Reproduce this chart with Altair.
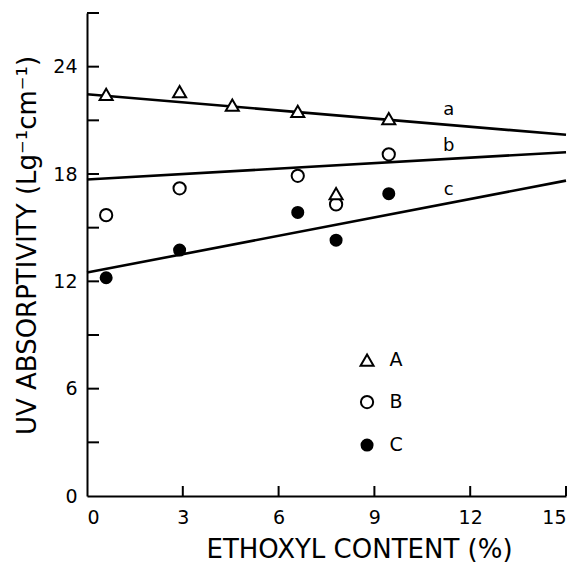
import altair as alt
import pandas as pd

# Series data (ethoxyl content %, UV absorptivity)
a_x = [0.6, 2.9, 4.55, 6.6, 9.45, 7.8]
a_y = [22.45, 22.6, 21.85, 21.5, 21.1, 16.9]
b_x = [0.6, 2.9, 6.6, 7.8, 9.45]
b_y = [15.7, 17.2, 17.9, 16.3, 19.1]
c_x = [0.6, 2.9, 6.6, 7.8, 9.45]
c_y = [12.2, 13.75, 15.85, 14.3, 16.9]

# Fitted lines (endpoints at x=0 and x=15)
line_names = ["a", "a", "b", "b", "c", "c"]
line_x = [0, 15, 0, 15, 0, 15]
line_y = [22.46, 20.19, 17.69, 19.22, 12.49, 17.63]

# Line labels
lab_text = ["a", "b", "c"]
lab_x = [11.33, 11.33, 11.33]
lab_y = [21.6, 19.55, 17.1]

# Legend entries
leg_text = ["A", "B", "C"]
leg_mx = [8.77, 8.77, 8.77]
leg_tx = [9.68, 9.68, 9.68]
leg_y = [7.6, 5.25, 2.85]

x_ticks = [3, 6, 9, 12, 15]
y_ticks = [3, 6, 9, 12, 15, 18, 21, 24, 27]
x_labels = [0, 3, 6, 9, 12, 15]
y_labels = [0, 6, 12, 18, 24]

FONT = "DejaVu Sans"
W, H = 479, 483

xs = alt.Scale(domain=[0, 15], nice=False, zero=False)
ys = alt.Scale(domain=[0, 27], nice=False, zero=False)

x_axis = alt.Axis(values=x_labels, tickSize=0, grid=False, labelFontSize=19,
                  labelFont=FONT, labelColor="black", labelPadding=12,
                  domainColor="black", domainWidth=2, title="ETHOXYL CONTENT (%)",
                  titleFont=FONT, titleFontSize=26, titleFontWeight="normal",
                  titleColor="black", titlePadding=9, titleX=272, titleAlign="center",
                  format="d")
y_axis = alt.Axis(values=y_labels, tickSize=0, grid=False, labelFontSize=19,
                  labelFont=FONT, labelColor="black", labelPadding=10,
                  domainColor="black", domainWidth=2,
                  title="UV ABSORPTIVITY (Lg⁻¹cm⁻¹)",
                  titleFont=FONT, titleFontSize=26, titleFontWeight="normal",
                  titleColor="black", titlePadding=12, titleY=232, titleAlign="center",
                  format="d")

df_a = pd.DataFrame({"x": a_x, "y": a_y})
df_b = pd.DataFrame({"x": b_x, "y": b_y})
df_c = pd.DataFrame({"x": c_x, "y": c_y})
df_l = pd.DataFrame({"line": line_names, "x": line_x, "y": line_y})
df_lab = pd.DataFrame({"t": lab_text, "x": lab_x, "y": lab_y})
df_leg = pd.DataFrame({"t": leg_text, "mx": leg_mx, "tx": leg_tx, "y": leg_y})
df_xt = pd.DataFrame({"v": x_ticks})
df_yt = pd.DataFrame({"v": y_ticks})

lines = alt.Chart(df_l).mark_line(color="black", strokeWidth=2.6).encode(
    x=alt.X("x:Q", scale=xs, axis=x_axis),
    y=alt.Y("y:Q", scale=ys, axis=y_axis),
    detail="line:N",
)

TRI = dict(shape="triangle-up", filled=False, color="black", strokeWidth=2,
           size=170, opacity=1, fill="white", fillOpacity=1)
OC = dict(shape="circle", filled=False, color="black", strokeWidth=2,
          size=150, opacity=1, fill="white", fillOpacity=1)
FC = dict(shape="circle", filled=True, color="black", opacity=1, size=170)

pa = alt.Chart(df_a).mark_point(**TRI).encode(
    x=alt.X("x:Q", scale=xs), y=alt.Y("y:Q", scale=ys))
pb = alt.Chart(df_b).mark_point(**OC).encode(
    x=alt.X("x:Q", scale=xs), y=alt.Y("y:Q", scale=ys))
pc = alt.Chart(df_c).mark_point(**FC).encode(
    x=alt.X("x:Q", scale=xs), y=alt.Y("y:Q", scale=ys))

labs = alt.Chart(df_lab).mark_text(font=FONT, fontSize=18, color="black").encode(
    x=alt.X("x:Q", scale=xs), y=alt.Y("y:Q", scale=ys), text="t:N")

leg_styles = [TRI, OC, FC]
leg_layers = []
for i in range(3):
    d = df_leg.iloc[[i]]
    m = alt.Chart(d).mark_point(**leg_styles[i])
    leg_layers.append(m.encode(x=alt.X("mx:Q", scale=xs), y=alt.Y("y:Q", scale=ys)))
leg_text_layer = alt.Chart(df_leg).mark_text(font=FONT, fontSize=19, color="black").encode(
    x=alt.X("tx:Q", scale=xs), y=alt.Y("y:Q", scale=ys), text="t:N")

yticks = alt.Chart(df_yt).mark_rule(color="black", strokeWidth=2).encode(
    y=alt.Y("v:Q", scale=ys), x=alt.value(0), x2=alt.value(12))
xticks = alt.Chart(df_xt).mark_rule(color="black", strokeWidth=2).encode(
    x=alt.X("v:Q", scale=xs), y=alt.value(H), y2=alt.value(H - 10))

chart = alt.layer(lines, yticks, xticks, pb, pc, pa, labs, *leg_layers, leg_text_layer).properties(
    width=W, height=H,
    autosize=alt.AutoSizeParams(type="none"),
    padding={"left": 87, "top": 13, "right": 13, "bottom": 70},
    background="white",
).configure_view(stroke=None)

chart.save("out.html", embed_options={"renderer": "svg", "actions": False})
